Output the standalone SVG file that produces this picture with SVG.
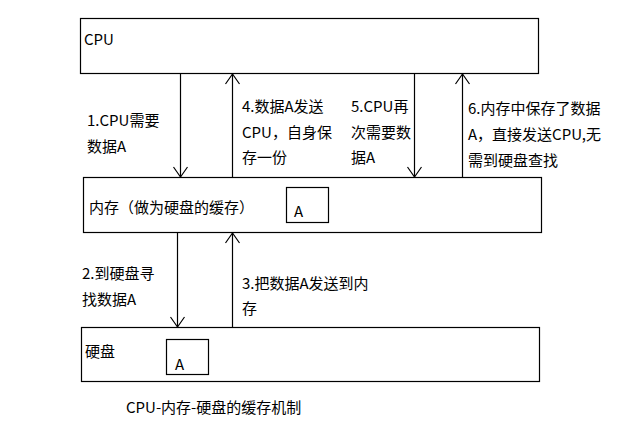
<svg xmlns="http://www.w3.org/2000/svg" width="625" height="438" viewBox="0 0 625 438">
  <style>
    .box { fill: #fff; stroke: #000; stroke-width: 1.2; }
    .edge { fill: none; stroke: #000; stroke-width: 1.2; }
    text { font-family: "Noto Sans CJK SC", "Microsoft YaHei", sans-serif; font-size: 15px; fill: #000; }
  </style>
  <defs>
    <marker id="head" markerUnits="userSpaceOnUse" markerWidth="20" markerHeight="20" refX="0" refY="0" viewBox="-12 -10 14 20" orient="auto" overflow="visible">
      <path d="M-10,-7 L0,0 L-10,7" fill="none" stroke="#000" stroke-width="1.2"/>
    </marker>
  </defs>
  <rect width="625" height="438" fill="#fff"/>

  <g id="cpu">
    <rect class="box" x="80.5" y="18.5" width="458" height="55"/>
    <text x="84" y="45">CPU</text>
  </g>

  <g id="memory">
    <rect class="box" x="83.5" y="177.5" width="458" height="55"/>
    <text x="89" y="213">内存（做为硬盘的缓存）</text>
    <rect class="box" x="286.5" y="187.5" width="42" height="35"/>
    <text x="294" y="217">A</text>
  </g>

  <g id="disk">
    <rect class="box" x="81.5" y="327.5" width="458" height="54"/>
    <text x="85" y="357">硬盘</text>
    <rect class="box" x="166.5" y="339.5" width="42" height="35"/>
    <text x="175" y="370">A</text>
  </g>

  <g id="connectors">
    <path class="edge" d="M180.5,74 V177" marker-end="url(#head)"/>
    <path class="edge" d="M232.5,177 V74" marker-end="url(#head)"/>
    <path class="edge" d="M414.5,74 V177" marker-end="url(#head)"/>
    <path class="edge" d="M462.5,177 V74" marker-end="url(#head)"/>
    <path class="edge" d="M177.5,233 V327" marker-end="url(#head)"/>
    <path class="edge" d="M232.5,327 V233" marker-end="url(#head)"/>
  </g>

  <g id="labels">
    <text x="87" y="126">1.CPU需要</text>
    <text x="87" y="152">数据A</text>

    <text x="242" y="112">4.数据A发送</text>
    <text x="242" y="138">CPU，自身保</text>
    <text x="242" y="163">存一份</text>

    <text x="351" y="112">5.CPU再</text>
    <text x="351" y="138">次需要数</text>
    <text x="351" y="163">据A</text>

    <text x="468" y="114">6.内存中保存了数据</text>
    <text x="468" y="140">A，直接发送CPU,无</text>
    <text x="468" y="166">需到硬盘查找</text>

    <text x="82" y="279">2.到硬盘寻</text>
    <text x="82" y="305">找数据A</text>

    <text x="242" y="289">3.把数据A发送到内</text>
    <text x="242" y="314">存</text>
  </g>

  <text id="caption" x="126" y="413">CPU-内存-硬盘的缓存机制</text>
</svg>
